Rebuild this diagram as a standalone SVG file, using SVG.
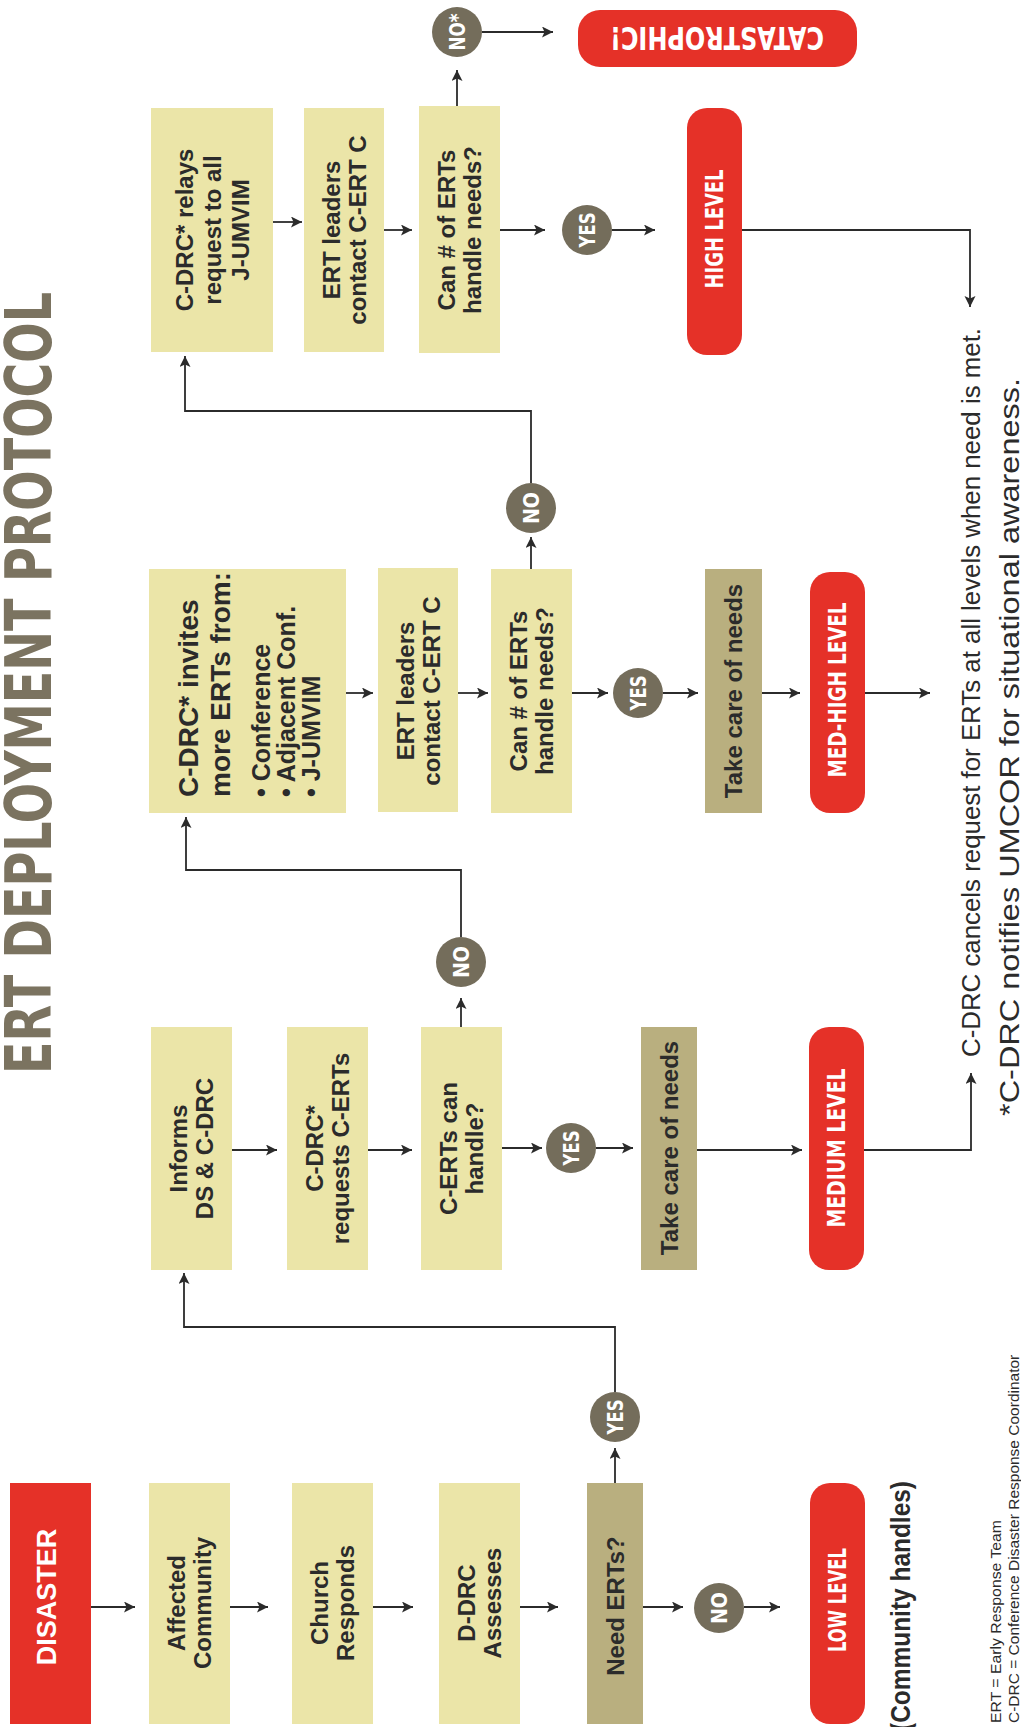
<svg xmlns="http://www.w3.org/2000/svg" width="1021" height="1727" viewBox="0 0 1021 1727">
<defs>
<marker id="ah" markerUnits="userSpaceOnUse" markerWidth="12" markerHeight="12" refX="11" refY="5.5" orient="auto">
<path d="M0,0 L11,5.5 L0,11 L2.5,5.5 z" fill="#2b2b2b"/>
</marker>
<style>
.pale{fill:#ebe5a8}
.khaki{fill:#b9af7f}
.red{fill:#e53128}
.dot{fill:#746d5b}
.bt{font-family:"Liberation Sans",Arial,sans-serif;font-weight:bold;font-size:24px;fill:#2b2b2b;text-anchor:middle}
.pt{font-family:"Liberation Sans Narrow","DejaVu Sans Condensed","Liberation Sans",sans-serif;font-weight:bold;font-size:24px;fill:#fff;text-anchor:middle}
.ct{font-family:"Liberation Sans Narrow","DejaVu Sans Condensed","Liberation Sans",sans-serif;font-weight:bold;font-size:21px;fill:#fff;text-anchor:middle}
.ft{font-family:"Liberation Sans",Arial,sans-serif;fill:#2b2b2b}
.conn path{fill:none;stroke:#2b2b2b;stroke-width:1.8;marker-end:url(#ah)}
</style>
</defs>
<rect width="1021" height="1727" fill="#fff"/>

<g id="title">
<text transform="translate(51,1074) rotate(-90)" font-family="'Liberation Sans Narrow','DejaVu Sans Condensed','Liberation Sans',sans-serif" font-weight="bold" font-size="64" fill="#7b7360" textLength="782" lengthAdjust="spacingAndGlyphs">ERT DEPLOYMENT PROTOCOL</text>
</g>

<g class="conn" id="connectors">
<path d="M91,1607 H135"/>
<path d="M230,1607 H268"/>
<path d="M373,1607 H413"/>
<path d="M520,1607 H558"/>
<path d="M643,1607 H683"/>
<path d="M744,1607 H780"/>
<path d="M615,1483 V1448"/>
<path d="M615,1392 V1327 H184 V1273"/>
<path d="M232,1150 H277"/>
<path d="M368,1150 H412"/>
<path d="M461,1027 V998"/>
<path d="M461,937 V870 H186 V817"/>
<path d="M502,1148 H542"/>
<path d="M596,1148 H633"/>
<path d="M697,1150 H802"/>
<path d="M864,1150 H971 V1073"/>
<path d="M346,693 H373"/>
<path d="M458,693 H488"/>
<path d="M531,569 V537"/>
<path d="M531,483 V411 H185 V356"/>
<path d="M572,693 H608"/>
<path d="M663,693 H698"/>
<path d="M762,693 H800"/>
<path d="M865,693 H930"/>
<path d="M273,222 H302"/>
<path d="M384,230 H412"/>
<path d="M457,106 V70"/>
<path d="M482,32 H553"/>
<path d="M500,230 H545"/>
<path d="M612,230 H655"/>
<path d="M742,230 H970 V307"/>
</g>

<g id="disaster"><rect class="red" x="10" y="1483" width="81" height="241"/>
<text transform="translate(55.7,1597) rotate(-90)" class="bt" style="fill:#fff;font-size:27px">DISASTER</text></g>
<g id="affected"><rect class="pale" x="149" y="1483" width="81" height="241"/>
<text transform="translate(185.1,1603) rotate(-90)" class="bt"><tspan x="0">Affected</tspan><tspan x="0" dy="26">Community</tspan></text></g>
<g id="church"><rect class="pale" x="292" y="1483" width="81" height="241"/>
<text transform="translate(328.1,1603) rotate(-90)" class="bt"><tspan x="0">Church</tspan><tspan x="0" dy="26">Responds</tspan></text></g>
<g id="ddrc"><rect class="pale" x="439" y="1483" width="81" height="241"/>
<text transform="translate(475.1,1603) rotate(-90)" class="bt"><tspan x="0">D-DRC</tspan><tspan x="0" dy="26">Assesses</tspan></text></g>
<g id="need"><rect class="khaki" x="587" y="1483" width="56" height="241"/>
<text transform="translate(623.6,1606) rotate(-90)" class="bt">Need ERTs?</text></g>
<g id="low"><rect class="red" x="810" y="1483" width="55" height="241" rx="20"/>
<text transform="translate(846.1,1600) rotate(-90)" class="pt" textLength="104" lengthAdjust="spacingAndGlyphs">LOW LEVEL</text></g>

<g id="informs"><rect class="pale" x="151" y="1027" width="81" height="243"/>
<text transform="translate(187.1,1148.5) rotate(-90)" class="bt"><tspan x="0">Informs</tspan><tspan x="0" dy="26">DS &amp; C-DRC</tspan></text></g>
<g id="requests"><rect class="pale" x="287" y="1027" width="81" height="243"/>
<text transform="translate(323.1,1148.5) rotate(-90)" class="bt"><tspan x="0">C-DRC*</tspan><tspan x="0" dy="26">requests C-ERTs</tspan></text></g>
<g id="cando"><rect class="pale" x="421" y="1027" width="81" height="243"/>
<text transform="translate(457.1,1148.5) rotate(-90)" class="bt"><tspan x="0">C-ERTs can</tspan><tspan x="0" dy="26">handle?</tspan></text></g>
<g id="take1"><rect class="khaki" x="641" y="1027" width="56" height="243"/>
<text transform="translate(677.6,1148) rotate(-90)" class="bt">Take care of needs</text></g>
<g id="medium"><rect class="red" x="809" y="1027" width="55" height="243" rx="20"/>
<text transform="translate(845.1,1148) rotate(-90)" class="pt" textLength="159" lengthAdjust="spacingAndGlyphs">MEDIUM LEVEL</text></g>

<g id="invites"><rect class="pale" x="149" y="569" width="197" height="244"/>
<text transform="translate(198,797) rotate(-90)" class="bt" style="text-anchor:start"><tspan x="0" style="font-size:28px">C-DRC* invites</tspan><tspan x="0" dy="32" style="font-size:28px">more ERTs from:</tspan><tspan x="0" dy="40" style="font-size:25px">• Conference</tspan><tspan x="0" dy="25" style="font-size:25px">• Adjacent Conf.</tspan><tspan x="0" dy="25" style="font-size:25px">• J-UMVIM</tspan></text></g>
<g id="leaders2"><rect class="pale" x="378" y="568" width="80" height="244"/>
<text transform="translate(413.6,691) rotate(-90)" class="bt"><tspan x="0">ERT leaders</tspan><tspan x="0" dy="26">contact C-ERT C</tspan></text></g>
<g id="can2"><rect class="pale" x="491" y="569" width="81" height="244"/>
<text transform="translate(527.1,691) rotate(-90)" class="bt"><tspan x="0">Can # of ERTs</tspan><tspan x="0" dy="26">handle needs?</tspan></text></g>
<g id="take2"><rect class="khaki" x="705" y="569" width="57" height="244"/>
<text transform="translate(742.1,691) rotate(-90)" class="bt">Take care of needs</text></g>
<g id="medhigh"><rect class="red" x="810" y="572" width="55" height="241" rx="20"/>
<text transform="translate(846.1,690) rotate(-90)" class="pt" textLength="175" lengthAdjust="spacingAndGlyphs">MED-HIGH LEVEL</text></g>

<g id="relays"><rect class="pale" x="151" y="108" width="122" height="244"/>
<text transform="translate(192.6,230) rotate(-90)" class="bt"><tspan x="0">C-DRC* relays</tspan><tspan x="0" dy="28">request to all</tspan><tspan x="0" dy="28">J-UMVIM</tspan></text></g>
<g id="leaders3"><rect class="pale" x="304" y="108" width="80" height="244"/>
<text transform="translate(339.6,230) rotate(-90)" class="bt"><tspan x="0">ERT leaders</tspan><tspan x="0" dy="26">contact C-ERT C</tspan></text></g>
<g id="can3"><rect class="pale" x="419" y="106" width="81" height="247"/>
<text transform="translate(455.1,230) rotate(-90)" class="bt"><tspan x="0">Can # of ERTs</tspan><tspan x="0" dy="26">handle needs?</tspan></text></g>
<g id="high"><rect class="red" x="687" y="108" width="55" height="247" rx="20"/>
<text transform="translate(723.1,229) rotate(-90)" class="pt" textLength="119" lengthAdjust="spacingAndGlyphs">HIGH LEVEL</text></g>
<g id="catastrophic"><rect class="red" x="578" y="10" width="279" height="57" rx="22"/>
<text transform="translate(717,27) rotate(180)" class="pt" style="font-size:32px" textLength="214" lengthAdjust="spacingAndGlyphs">CATASTROPHIC!</text></g>

<g id="yes1"><circle class="dot" cx="615" cy="1417" r="25"/><text transform="translate(622.5,1417) rotate(-90)" class="ct" textLength="35" lengthAdjust="spacingAndGlyphs">YES</text></g>
<g id="no1"><circle class="dot" cx="719" cy="1608" r="25"/><text transform="translate(726.5,1608) rotate(-90)" class="ct" textLength="32" lengthAdjust="spacingAndGlyphs">NO</text></g>
<g id="no2"><circle class="dot" cx="461" cy="962" r="25"/><text transform="translate(468.5,962) rotate(-90)" class="ct" textLength="32" lengthAdjust="spacingAndGlyphs">NO</text></g>
<g id="yes2"><circle class="dot" cx="571" cy="1148" r="25"/><text transform="translate(578.5,1148) rotate(-90)" class="ct" textLength="35" lengthAdjust="spacingAndGlyphs">YES</text></g>
<g id="no3"><circle class="dot" cx="531" cy="508" r="25"/><text transform="translate(538.5,508) rotate(-90)" class="ct" textLength="32" lengthAdjust="spacingAndGlyphs">NO</text></g>
<g id="yes3"><circle class="dot" cx="638" cy="693" r="25"/><text transform="translate(645.5,693) rotate(-90)" class="ct" textLength="35" lengthAdjust="spacingAndGlyphs">YES</text></g>
<g id="no4"><circle class="dot" cx="457" cy="32" r="25"/><text transform="translate(464.5,32) rotate(-90)" class="ct" textLength="37" lengthAdjust="spacingAndGlyphs">NO*</text></g>
<g id="yes4"><circle class="dot" cx="587" cy="230" r="25"/><text transform="translate(594.5,230) rotate(-90)" class="ct" textLength="35" lengthAdjust="spacingAndGlyphs">YES</text></g>

<g id="notes">
<text transform="translate(980,1057) rotate(-90)" class="ft" font-size="26" textLength="729" lengthAdjust="spacingAndGlyphs">C-DRC cancels request for ERTs at all levels when need is met.</text>
<text transform="translate(1019,1116) rotate(-90)" class="ft" font-size="27" textLength="738" lengthAdjust="spacingAndGlyphs">*C-DRC notifies UMCOR for situational awareness.</text>
<text transform="translate(910,1731) rotate(-90)" class="ft" font-size="27" font-weight="bold" textLength="250" lengthAdjust="spacingAndGlyphs">(Community handles)</text>
<text transform="translate(1001,1723) rotate(-90)" class="ft" font-size="15" textLength="203" lengthAdjust="spacingAndGlyphs">ERT = Early Response Team</text>
<text transform="translate(1019,1723) rotate(-90)" class="ft" font-size="15.5">C-DRC = Conference Disaster Response Coordinator</text>
</g>
</svg>
